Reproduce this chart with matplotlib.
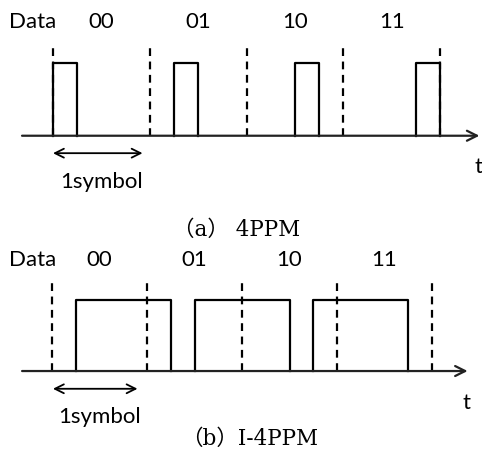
"""
4PPM vs I-4PPM waveform diagram.
"""

import matplotlib
matplotlib.use('Agg')
import matplotlib.pyplot as plt

# Data
symbols = ['00', '01', '10', '11']
pulse_slot = [0, 1, 2, 3]   # 4PPM pulse position in each symbol
slots_per_symbol = 4
captions = ['（a） 4PPM', '（b）I‐4PPM']

LABEL_FONT = ['Lato', 'DejaVu Sans']
CAPTION_FONT = ['DejaVu Serif', 'Noto Sans CJK JP']
LW = 1.6
FS = 16


def ppm_pulses():
    """(start, end) of each 4PPM pulse in slot units."""
    out = []
    for i, s in enumerate(pulse_slot):
        x0 = i * slots_per_symbol + s
        out.append((x0, x0 + 1))
    return out


def ippm_pulses():
    """Inverse PPM: high everywhere except the PPM slot, merged into runs."""
    levels = []
    for s in pulse_slot:
        levels += [0 if k == s else 1 for k in range(slots_per_symbol)]
    runs = []
    start = None
    for k, v in enumerate(levels + [0]):
        if v and start is None:
            start = k
        elif not v and start is not None:
            runs.append((start, k))
            start = None
    return runs


def draw_panel(ax, pulses, x_axis, arrow_span, label_y, arrow_y, sym_y, t_pos):
    n = len(symbols)
    # dashed symbol boundaries
    for i in range(n + 1):
        ax.plot([i * slots_per_symbol] * 2, [0, 1.25], color='black', lw=LW,
                ls=(0, (3.5, 2.5)))
    # pulses
    for x0, x1 in pulses:
        ax.plot([x0, x0, x1, x1], [0, 1, 1, 0], color='black', lw=LW)
    # time axis
    ax.annotate('', xy=(x_axis[1], 0), xytext=(x_axis[0], 0),
                arrowprops=dict(arrowstyle='->', lw=LW, color='#222222',
                                mutation_scale=18, shrinkA=0, shrinkB=0))
    ax.text(t_pos[0], t_pos[1], 't', fontsize=FS, family=LABEL_FONT,
            ha='left', va='center')
    # data labels
    ax.text(-1.8, label_y, 'Data', fontsize=FS, family=LABEL_FONT,
            ha='left', va='center')
    for i, s in enumerate(symbols):
        ax.text(i * slots_per_symbol + 2, label_y, s, fontsize=FS,
                family=LABEL_FONT, ha='center', va='center')
    # one-symbol marker
    ax.annotate('', xy=(arrow_span[1], arrow_y), xytext=(arrow_span[0], arrow_y),
                arrowprops=dict(arrowstyle='<->', lw=1.3, color='black',
                                mutation_scale=16, shrinkA=0, shrinkB=0))
    ax.text(2, sym_y, '1symbol', fontsize=FS, family=LABEL_FONT,
            ha='center', va='center')
    ax.axis('off')


fig = plt.figure(figsize=(4.82, 4.59), dpi=100)

# top panel: x px = 53 + 24.2*x, y px = 135.7 - 72.7*y
ax1 = fig.add_axes([0, 214 / 459, 1, 245 / 459])
ax1.set_xlim(-53 / 24.2, (482 - 53) / 24.2)
ax1.set_ylim(-1.503, 1.867)
draw_panel(ax1, ppm_pulses(), (-1.28, 17.62), (0, 3.7),
           1.56, -0.24, -0.64, (17.4, -0.43))

# bottom panel: x px = 52 + 23.75*x, y px = 371 - 71*y
ax2 = fig.add_axes([0, 0, 1, 214 / 459])
ax2.set_xlim(-52 / 23.75, (482 - 52) / 23.75)
ax2.set_ylim(-1.239, 1.775)
draw_panel(ax2, ippm_pulses(), (-1.26, 17.5), (0.04, 3.6),
           1.56, -0.25, -0.65, (17.3, -0.45))

fig.text(237 / 482, 1 - 230 / 459, captions[0], fontsize=15.5,
         family=CAPTION_FONT, ha='center', va='center')
fig.text(250 / 482, 1 - 439 / 459, captions[1], fontsize=15.5,
         family=CAPTION_FONT, ha='center', va='center')

plt.savefig('out.png', dpi=100)
plt.close()
